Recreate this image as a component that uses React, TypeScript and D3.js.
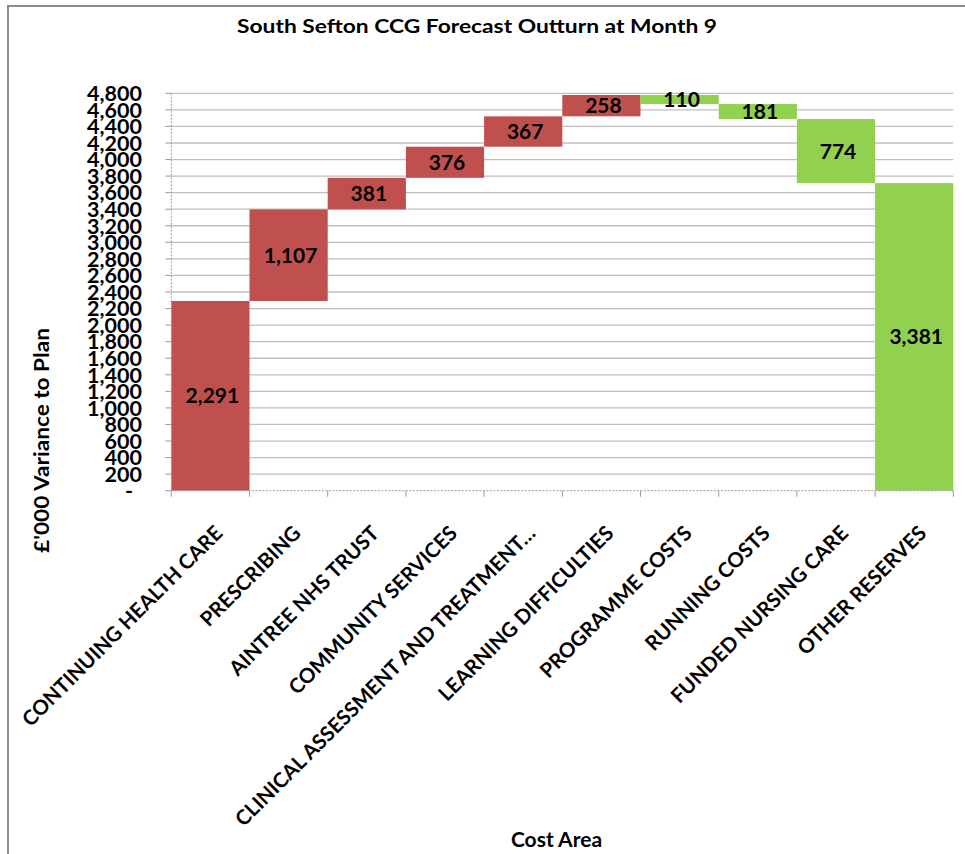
import React from "react";
import * as d3 from "d3";

const categories = [
  "CONTINUING HEALTH CARE",
  "PRESCRIBING",
  "AINTREE NHS TRUST",
  "COMMUNITY SERVICES",
  "CLINICAL ASSESSMENT AND TREATMENT…",
  "LEARNING DIFFICULTIES",
  "PROGRAMME COSTS",
  "RUNNING COSTS",
  "FUNDED NURSING CARE",
  "OTHER RESERVES",
];
// change per step (positive = overspend/red, negative = underspend/green)
const steps = [2291, 1107, 381, 376, 367, 258, -110, -181, -774];
// data labels shown on bars
const labelValues = [2291, 1107, 381, 376, 367, 258, 110, 181, 774, 3381];
const yTicks = [0, 200, 400, 600, 800, 1000, 1200, 1400, 1600, 1800, 2000, 2200, 2400, 2600, 2800, 3000, 3200, 3400, 3600, 3800, 4000, 4200, 4400, 4600, 4800];

const RED = "#C0504D";
const GREEN = "#92D050";
const FONT = "Lato, 'Open Sans', sans-serif";

export default function App() {
  const W = 965;
  const H = 854;
  const x = d3.scaleBand<string>().domain(categories).range([171.3, 953.3]).padding(0);
  const y = d3.scaleLinear().domain([0, 4800]).range([490.7, 93.3]);

  // build waterfall segments
  let run = 0;
  const bars = categories.map((c, i) => {
    if (i < steps.length) {
      const start = run;
      run += steps[i];
      return { c, lo: Math.min(start, run), hi: Math.max(start, run), color: steps[i] >= 0 ? RED : GREEN, label: labelValues[i] };
    }
    return { c, lo: 0, hi: run, color: GREEN, label: labelValues[i] };
  });
  const fmt = d3.format(",");
  const [x0, x1] = x.range();
  const [yb, yt] = y.range();

  return (
    <svg width={W} height={H} style={{ position: "absolute", left: 0, top: 0, background: "#fff" }} fontFamily={FONT}>
      <rect x={8} y={6} width={W + 20} height={H + 20} fill="#fff" stroke="#8c8c8c" strokeWidth={2} />
      <text x={477} y={33} textAnchor="middle" fontSize={19.5} fontWeight={700} textLength={480} lengthAdjust="spacingAndGlyphs" fill="#000">
        South Sefton CCG Forecast Outturn at Month 9
      </text>

      {/* gridlines */}
      {yTicks.filter((t) => t > 0).map((t) => (
        <line key={"g" + t} x1={x0} x2={x1} y1={y(t)} y2={y(t)} stroke="#BFBFBF" strokeWidth={1.3} />
      ))}

      {/* bars */}
      {bars.map((b) => (
        <rect key={b.c} x={x(b.c)!} width={x.bandwidth()} y={y(b.hi)} height={y(b.lo) - y(b.hi)} fill={b.color} />
      ))}

      {/* axes */}
      <line x1={x0} x2={x0} y1={yt} y2={yb} stroke="#9a9a9a" strokeWidth={1} strokeDasharray="2,1.5" />
      <line x1={x0} x2={x1} y1={yb} y2={yb} stroke="#9a9a9a" strokeWidth={1} strokeDasharray="2,1.5" />
      {yTicks.map((t) => (
        <line key={"yt" + t} x1={x0 - 6} x2={x0} y1={y(t)} y2={y(t)} stroke="#9a9a9a" strokeWidth={1} />
      ))}
      {categories.map((c) => (
        <line key={"xt" + c} x1={x(c)! + x.bandwidth()} x2={x(c)! + x.bandwidth()} y1={yb} y2={yb + 6} stroke="#9a9a9a" strokeWidth={1} />
      ))}
      <line x1={x0} x2={x0} y1={yb} y2={yb + 6} stroke="#9a9a9a" strokeWidth={1} />

      {/* y tick labels */}
      {yTicks.map((t) => (
        <text key={"yl" + t} x={t === 0 ? 133 : 142} y={y(t)} dy="0.36em" textAnchor="end" fontSize={21.5} fontWeight={700} fill="#000">
          {t === 0 ? "-" : fmt(t)}
        </text>
      ))}

      {/* bar labels */}
      {bars.map((b) => (
        <text key={"bl" + b.c} x={x(b.c)! + x.bandwidth() / 2 + 2} y={(y(b.lo) + y(b.hi)) / 2} dy="0.36em" textAnchor="middle" fontSize={21} fontWeight={700} fill="#000">
          {fmt(b.label)}
        </text>
      ))}

      {/* x labels */}
      {categories.map((c) => {
        const cx = x(c)! + x.bandwidth() / 2;
        return (
          <text key={"xl" + c} transform={`translate(${cx + 13.5},${534.5}) rotate(-45)`} textAnchor="end" fontSize={20.5} fontWeight={700} fill="#000">
            {c}
          </text>
        );
      })}

      {/* axis titles */}
      <text transform="translate(49,440.5) rotate(-90)" textAnchor="middle" fontSize={21} fontWeight={700} textLength={225} lengthAdjust="spacingAndGlyphs" fill="#000">
        £'000 Variance to Plan
      </text>
      <text x={556.5} y={847} textAnchor="middle" fontSize={21} fontWeight={700} fill="#000">
        Cost Area
      </text>
    </svg>
  );
}
